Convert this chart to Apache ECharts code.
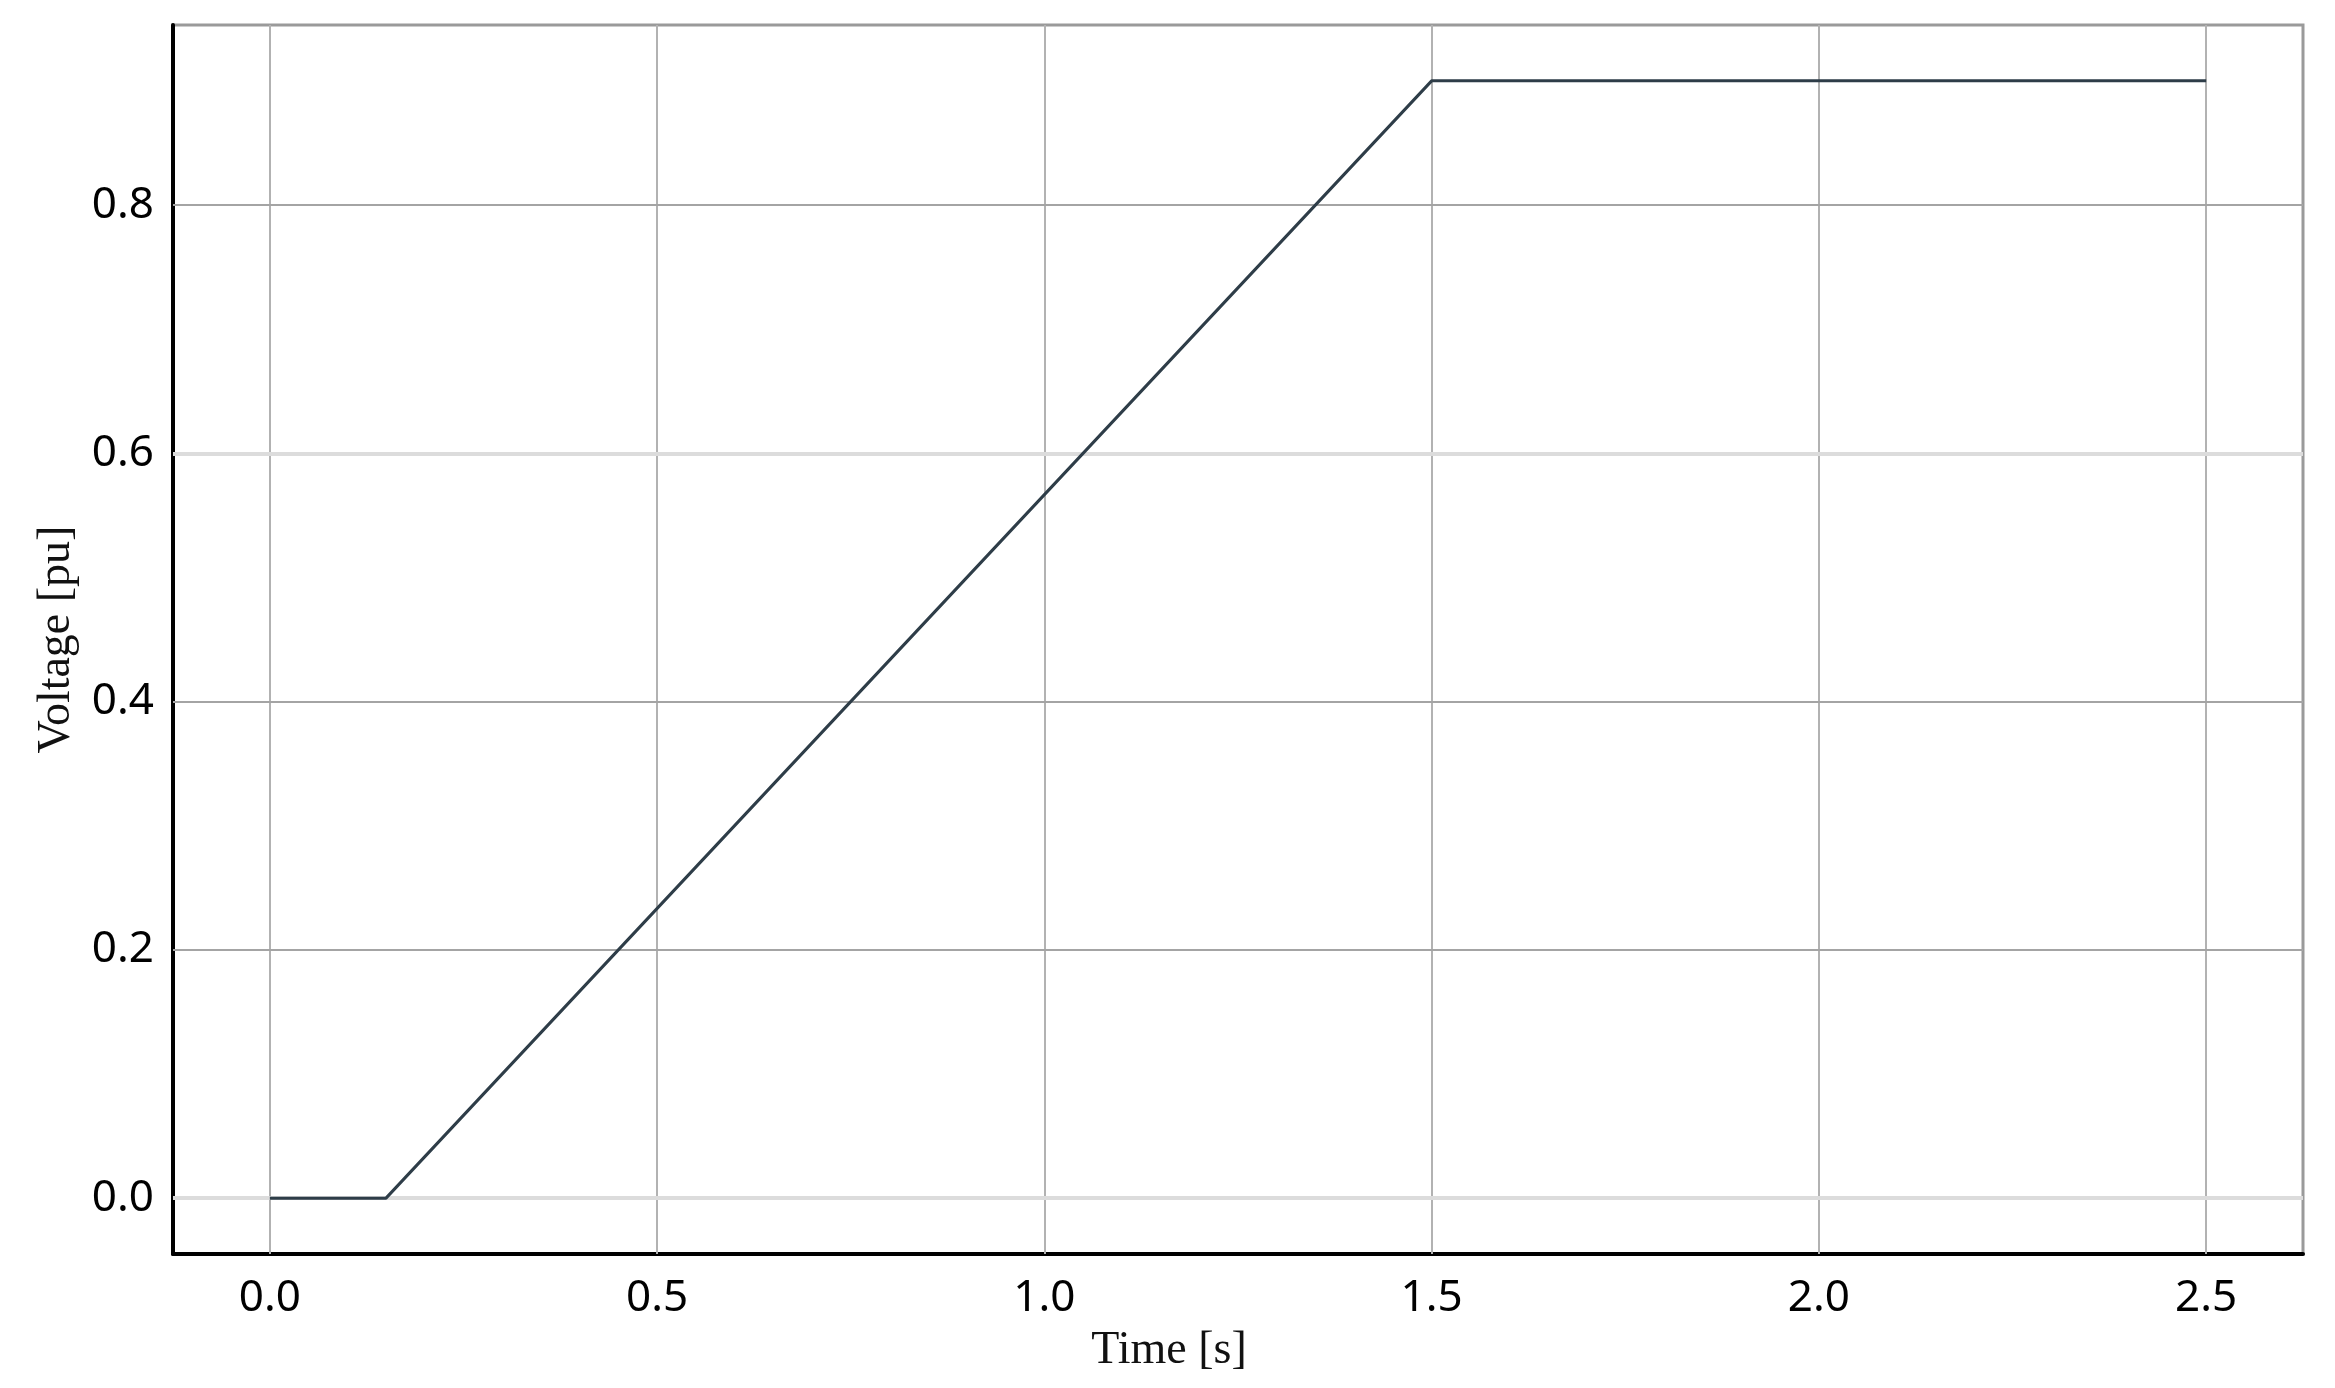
<!DOCTYPE html>
<html>
<head>
<meta charset="utf-8">
<script src="https://cdn.jsdelivr.net/npm/echarts@6/dist/echarts.min.js"></script>
<style>
  html, body { margin: 0; padding: 0; background: #fff; }
  #chart { width: 2335px; height: 1388px; }
</style>
</head>
<body>
<div id="chart"></div>
<script>
// voltage ramp
const timeValues = [0, 0.15, 1.5, 2.5]
const voltageValues = [0, 0, 0.9, 0.9]
const xTicks = [0, 0.5, 1.0, 1.5, 2.0, 2.5]
const yTicks = [0, 0.2, 0.4, 0.6, 0.8]

const gridColor = '#b2b2b2'
const labelFont = '"Noto Sans", "Open Sans", sans-serif'
const nameFont = '"Liberation Serif", "DejaVu Serif", serif'

const isOn = (v, step) => Math.abs(v / step - Math.round(v / step)) < 1e-6

const chart = echarts.init(document.getElementById('chart'))

const gridLines = [
  ...xTicks.map((x) => ({ xAxis: x })),
  ...yTicks.map((y) => ({
    yAxis: y,
    lineStyle: (y === 0 || y === 0.6) ? { color: '#dcdcdc', width: 4 } : { color: '#a4a4a4', width: 2 },
  })),
]

chart.setOption({
  animation: false,
  backgroundColor: '#fff',
  grid: {
    left: 173,
    right: 32,
    top: 25,
    bottom: 134,
    show: true,
    backgroundColor: '#fff',
    borderColor: '#9a9a9a',
    borderWidth: 3,
  },
  xAxis: {
    type: 'value',
    min: -0.125,
    max: 2.625,
    interval: 0.125,
    name: 'Time [s]',
    nameLocation: 'middle',
    nameGap: 74,
    nameTextStyle: {
      fontFamily: nameFont,
      fontSize: 46,
      color: '#111',
      padding: [0, 138, 0, 0],
    },
    axisLine: { onZero: false, lineStyle: { color: '#000', width: 4 } },
    axisTick: { show: false },
    splitLine: { show: false },
    axisLabel: {
      margin: 22,
      fontFamily: labelFont,
      fontSize: 44,
      color: '#000',
      formatter: (v) => (isOn(v, 0.5) ? v.toFixed(1) : ''),
    },
  },
  yAxis: {
    type: 'value',
    min: -0.045,
    max: 0.945,
    interval: 0.005,
    name: 'Voltage [pu]',
    nameLocation: 'middle',
    nameGap: 93,
    nameTextStyle: {
      fontFamily: nameFont,
      fontSize: 46,
      color: '#111',
    },
    axisLine: { onZero: false, lineStyle: { color: '#000', width: 4 } },
    axisTick: { show: false },
    splitLine: { show: false },
    axisLabel: {
      margin: 19,
      fontFamily: labelFont,
      fontSize: 44,
      color: '#000',
      formatter: (v) => (isOn(v, 0.2) && v >= 0 && v < 0.9 ? v.toFixed(1) : ''),
    },
  },
  series: [
    {
      type: 'line',
      z: 1,
      data: [],
      silent: true,
      markLine: {
        z: 1,
        silent: true,
        symbol: 'none',
        label: { show: false },
        lineStyle: { type: 'solid', color: gridColor, width: 2 },
        data: gridLines,
      },
    },
    {
      type: 'line',
      z: 3,
      symbol: 'none',
      data: timeValues.map((t, i) => [t, voltageValues[i]]),
      lineStyle: { color: '#2e3d48', width: 3 },
      itemStyle: { color: '#2e3d48' },
    },
  ],
})
</script>
</body>
</html>
